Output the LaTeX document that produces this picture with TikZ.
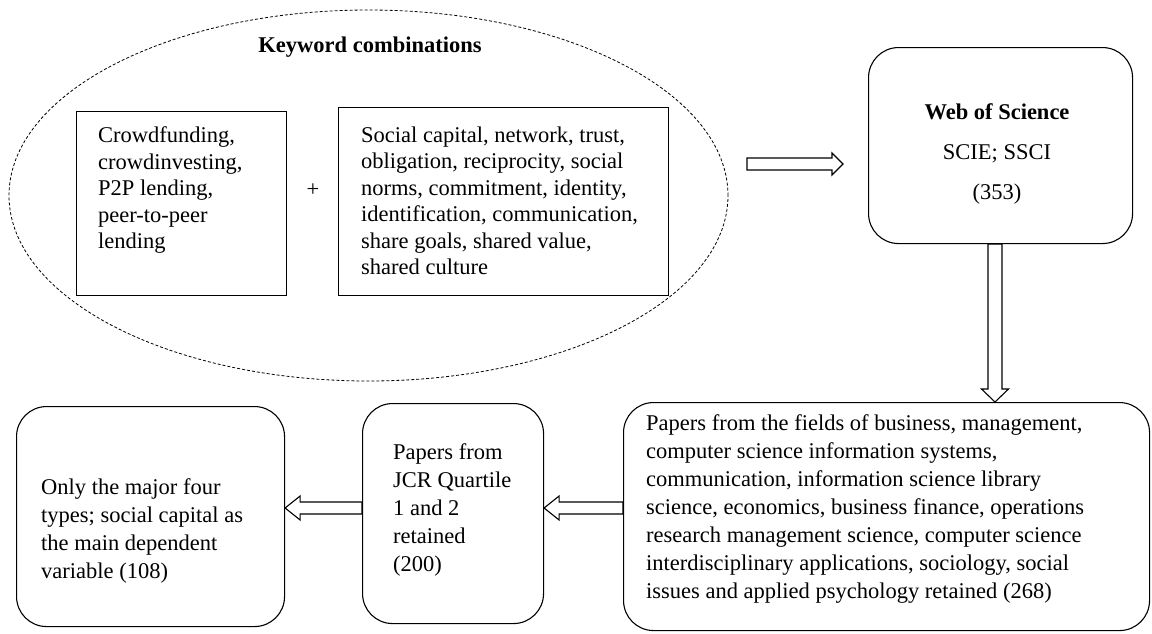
\documentclass[tikz,border=0pt]{standalone}
\usepackage{fontspec}
\setmainfont{Liberation Serif}
\usetikzlibrary{calc,shapes.geometric}
\newcommand\rblock[2]{\path[barrow] let \p1=(#1),\p2=(#2) in (\x1,\y1+6) -- (\x2-11,\y1+6) -- (\x2-11,\y1+11) -- (\x2,\y1) -- (\x2-11,\y1-11) -- (\x2-11,\y1-6) -- (\x1,\y1-6) -- cycle;}
\newcommand\lblock[2]{\path[barrow] let \p1=(#1),\p2=(#2) in (\x1,\y1+6) -- (\x2+15,\y1+6) -- (\x2+15,\y1+12) -- (\x2,\y1) -- (\x2+15,\y1-12) -- (\x2+15,\y1-6) -- (\x1,\y1-6) -- cycle;}
\newcommand\dblock[2]{\path[barrow] let \p1=(#1),\p2=(#2) in (\x1-7,\y1) -- (\x1-7,\y2+13) -- (\x1-13.5,\y2+13) -- (\x1,\y2) -- (\x1+13.5,\y2+13) -- (\x1+7,\y2+13) -- (\x1+7,\y1) -- cycle;}
\begin{document}
\begin{tikzpicture}[x=1pt,y=-1pt,
  every node/.style={font=\fontsize{22.5}{26.5}\selectfont},
  txt/.style={font=\fontsize{22.5}{26.5}\selectfont, align=left, inner sep=0pt, anchor=north west},
  txtb/.style={font=\fontsize{22.5}{28}\selectfont, align=left, inner sep=0pt, anchor=north west},
  sqbox/.style={draw, line width=1.1pt, inner sep=0pt, anchor=north west},
  rbox/.style={draw, line width=1.1pt, rounded corners=30pt, inner sep=0pt, anchor=north west},
  barrow/.style={draw, line width=1.1pt, line join=miter},
  kwell/.style={draw, ellipse, line width=0.8pt, dash pattern=on 3pt off 2pt, inner sep=0pt},
  bold/.style={font=\fontsize{22.5}{26.5}\selectfont\bfseries},
]
\useasboundingbox (0,0) rectangle (1152,633);
% keyword group
\node[kwell, minimum width=719, minimum height=371] (kw) at (368.5,195.5) {};
\node[bold, anchor=base, inner sep=0pt] (kwt) at (370,52) {Keyword combinations};
\node[sqbox, minimum width=210, minimum height=184] (kwl) at (76,111) {};
\node[sqbox, minimum width=330, minimum height=188] (kwr) at (338,107) {};
\node[txt] (kwlt) at ($(kwl.north west)+(22,15.5)$) {Crowdfunding,\\crowdinvesting,\\P2P lending,\\peer-to-peer\\lending};
\node[txt] (kwrt) at ($(kwr.north west)+(23,19.5)$) {Social capital, network, trust,\\obligation, reciprocity, social\\norms, commitment, identity,\\identification, communication,\\share goals, shared value,\\shared culture};
\node[inner sep=0pt] (plus) at (313,190) {+};
% Web of Science
\node[rbox, minimum width=264, minimum height=196] (wos) at (868,47) {};
\node[bold, anchor=base, inner sep=0pt] (wos1) at (997,119) {Web of Science};
\node[anchor=base, inner sep=0pt] (wos2) at (997,159) {SCIE; SSCI};
\node[anchor=base, inner sep=0pt] (wos3) at (997,199) {(353)};
% bottom row
\node[rbox, minimum width=526, minimum height=228] (br) at (623,402) {};
\node[rbox, minimum width=181, minimum height=220] (bm) at (362,403) {};
\node[rbox, minimum width=268, minimum height=220] (bl) at (16,406) {};
\node[txtb] (brt) at ($(br.north west)+(23,12.5)$) {Papers from the fields of business, management,\\computer science information systems,\\communication, information science library\\science, economics, business finance, operations\\research management science, computer science\\interdisciplinary applications, sociology, social\\issues and applied psychology retained (268)};
\node[txtb] (bmt) at ($(bm.north west)+(31,40.5)$) {Papers from\\JCR Quartile\\1 and 2\\retained\\(200)};
\node[txtb] (blt) at ($(bl.north west)+(25,72.5)$) {Only the major four\\types; social capital as\\the main dependent\\variable (108)};
% connectors
\coordinate (a1s) at (747,164);
\coordinate (a1e) at (843,164);
\coordinate (dx) at (995,0);
\coordinate (ay) at (0,508);
\rblock{a1s}{a1e}
\dblock{dx |- wos.south}{dx |- br.north}
\lblock{br.west |- ay}{bm.east |- ay}
\lblock{bm.west |- ay}{bl.east |- ay}
\end{tikzpicture}
\end{document}
